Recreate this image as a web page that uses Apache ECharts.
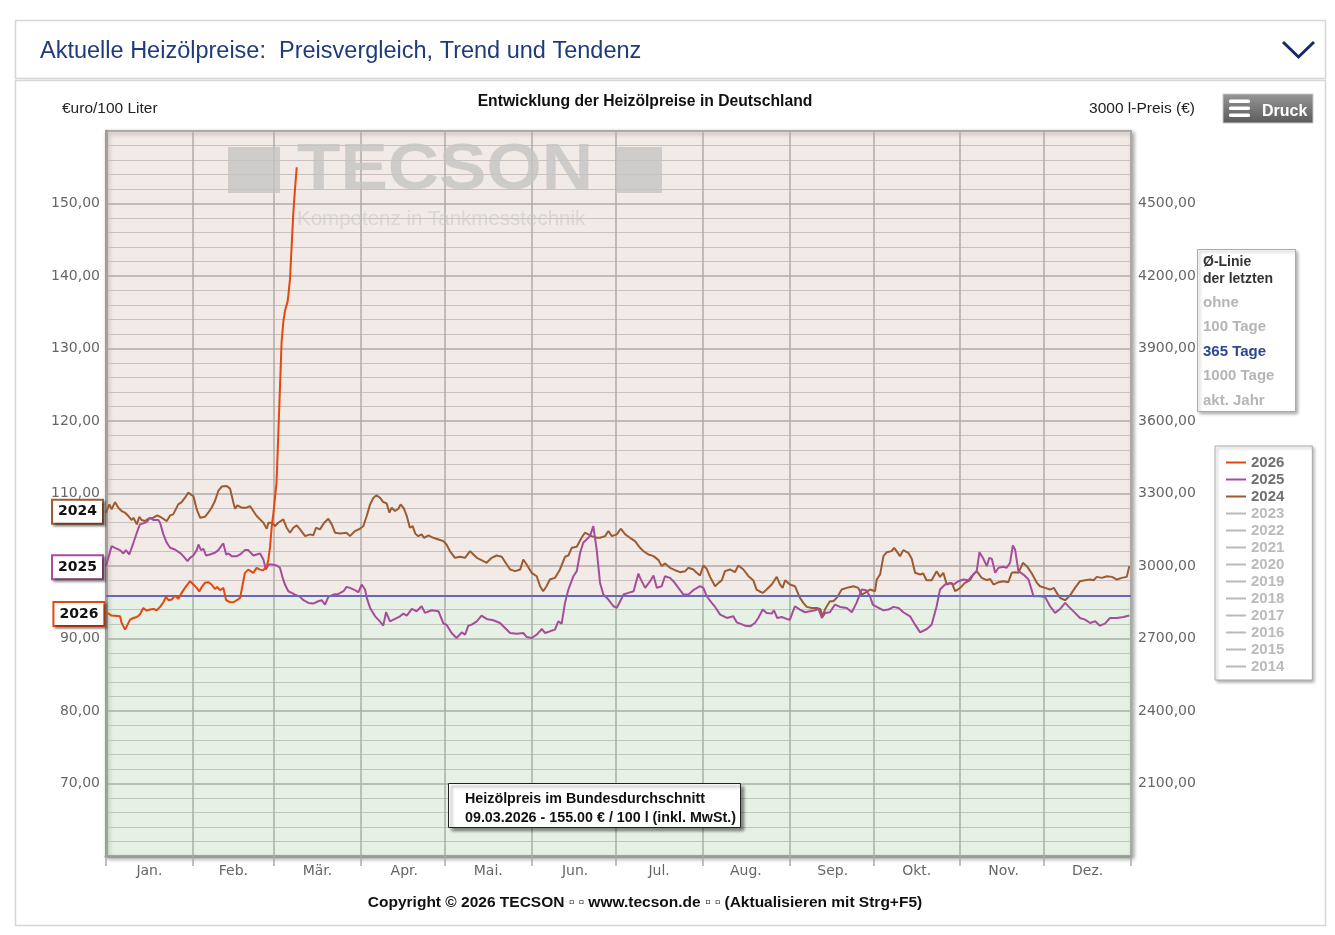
<!DOCTYPE html>
<html>
<head>
<meta charset="utf-8">
<script src="https://cdn.jsdelivr.net/npm/echarts@6/dist/echarts.min.js"></script>
<style>
html,body{margin:0;padding:0;background:#fff;}
#chart{width:1335px;height:935px;}
</style>
</head>
<body>
<div id="chart"></div>
<script>
// ---- data ----
const months = ['Jan.','Feb.','Mär.','Apr.','Mai.','Jun.','Jul.','Aug.','Sep.','Okt.','Nov.','Dez.'];
const monthDays = [31,29,31,30,31,30,31,31,30,31,30,31];
const legendYears = ['2026','2025','2024','2023','2022','2021','2020','2019','2018','2017','2016','2015','2014'];
const activeYears = ['2026','2025','2024'];
const avg365 = 95.9;

// [day of year, €/100 l]
const s2026 = [[0.5,93.53],[2,93.16],[5,93.06],[5.6,92.14],[6.8,91.22],[7.4,91.45],[8.6,92.6],[9.8,92.83],[11,92.97],[12.1,93.3],[13.3,94.2],[14.5,93.85],[15.7,93.99],[16.9,94.08],[18.1,93.9],[19.3,94.36],[20.5,95.0],[21.4,95.74],[22.3,95.28],[23.5,95.37],[24.6,95.92],[25.8,95.46],[27,96.29],[28.2,96.98],[30,97.9],[31.2,97.44],[32.4,96.98],[33.3,96.5],[34.2,97.1],[35.4,97.7],[36.5,97.77],[37.7,97.44],[38.9,96.84],[39.7,97.1],[40.7,96.66],[41.9,96.98],[42.9,95.28],[44.3,95.0],[45.5,95.0],[46.7,95.28],[47.9,95.6],[48.8,97.44],[49.6,99.05],[50.8,99.5],[52.6,99.05],[53.8,99.74],[55,99.5],[56.2,99.42],[57.4,99.98],[58,100.9],[58.6,102.74],[59.2,105.5],[59.8,107.35],[60.4,109.65],[60.9,111.5],[61.5,117.95],[62.1,124.4],[62.7,130.86],[63.3,133.6],[63.9,135.2],[64.8,136.4],[65.1,137.3],[65.7,139.6],[66.3,144.2],[66.9,148.8],[67.5,152.05],[68.1,155.0]];

const s2025 = [[0,99.98],[2,102.74],[3.2,102.51],[5,102.19],[6.2,101.73],[7.1,102.19],[8.3,101.59],[9.8,103.2],[11,104.59],[12.1,105.74],[13.3,105.88],[14.5,106.06],[15.7,106.66],[16.9,106.34],[18.7,106.34],[19.3,105.97],[20.5,104.36],[21.7,103.2],[22.9,102.51],[24.6,102.28],[26.4,101.82],[27.6,101.36],[29.1,100.67],[30,101.13],[31.2,101.45],[32.4,102.19],[33,102.97],[33.9,102.19],[34.8,102.37],[35.7,101.45],[37.1,101.59],[38.9,101.82],[40.1,102.19],[41.3,102.83],[41.9,103.11],[42.9,101.59],[43.7,101.73],[44.9,101.36],[46.7,101.36],[47.9,101.59],[49.6,102.19],[50.8,102.19],[52.6,101.45],[53.8,101.59],[55,101.73],[56.2,100.9],[57.1,99.52],[58,100.21],[59.2,100.21],[61,100.07],[62.1,99.75],[63.1,98.36],[63.9,97.44],[65.1,96.52],[66.3,96.29],[67.5,96.06],[69.3,95.74],[70.5,95.28],[72.3,94.91],[74,94.82],[75.8,95.14],[77,95.28],[78.2,94.68],[79.4,95.74],[81.2,96.06],[83,96.15],[84.8,96.52],[85.9,97.12],
[87.1,96.98],[88.9,96.66],[90.1,96.38],[91.3,97.44],[92.5,96.75],[93.1,95.6],[94.3,94.22],[96.1,93.06],[97.8,92.37],[99,91.77],[100,93.62],[101.4,92.37],[103.2,92.7],[105,93.06],[106.2,93.43],[107.4,93.16],[109.2,94.08],[110.9,93.76],[112.7,94.45],[113.9,93.53],[116.3,93.89],[118.7,93.76],[120.5,92.05],[121.6,91.91],[123.4,90.76],[125.2,90.07],[127,90.85],[128.2,90.53],[129.4,91.77],[130.6,91.91],[132.4,92.37],[134.1,93.16],[135.9,92.7],[138.3,92.51],[140.7,92.14],[142.5,91.45],[144.3,90.76],[146.7,90.67],[149,90.76],[150.2,90.21],[152,90.07],[153.8,90.53],[155.6,91.31],[156.8,90.76],[158.5,90.99],[160.3,91.22],[161.5,92.37],[162.7,92.05],[163.9,94.91],[165.1,96.75],[166.9,98.59],[168.1,99.29],[169.3,101.82],[170.4,103.2],[171.6,103.66],[172.8,104.12],[174,105.5],[174.6,105.6],[175.2,102.28],[176.4,97.67],[177.6,96.06],[179.4,95.37],[181.2,94.45],[182.4,94.22],[183.6,95.14],[184.8,96.06],[186.5,96.29],[188.4,96.52],[190.1,98.96],[190.7,98.36],[192.5,96.98],[194.3,97.9],[195.5,98.69],[196.7,96.98],[198.4,97.21],[199.6,98.59],[201.4,98.36],[202.6,97.9],[204.4,96.98],[206.2,96.06],[208,96.06],[209.7,96.66],[212.1,97.21],[213.3,96.98],[214.5,95.83],[216.3,94.91],[217.5,94.35],[219.3,93.3],[221.7,92.83],[224,93.06],[225.2,92.23],
[226.4,92.05],[228.2,91.77],[230,91.68],[231.7,92.14],[232.9,92.83],[234.5,93.99],[235.9,93.53],[237.7,93.43],[238.5,93.89],[239.7,92.83],[241.3,92.97],[243,92.7],[244.2,92.6],[246,94.45],[247.8,93.99],[249.6,93.62],[251.4,93.76],[253.2,93.89],[254.4,94.08],[255.6,92.83],[256.8,93.53],[258.5,93.62],[260.3,94.68],[262.1,94.36],[264.5,94.22],[266.3,93.62],[268,94.91],[269.8,96.75],[271.4,96.66],[272.8,95.83],[273.8,94.68],[275.2,94.36],[277.6,93.89],[279.4,93.99],[281.2,94.36],[283,94.22],[284.7,93.62],[287.1,93.06],[288.9,91.91],[290.7,90.85],[293.1,91.31],[294.8,91.91],[296.6,94.45],[297.8,96.75],[299.6,97.44],[301.4,97.67],[302.6,97.44],[304.4,97.9],[306.2,98.13],[308,98.04],[309.1,98.59],[310.9,99.29],[311.9,101.91],[313.3,100.99],[314.5,99.98],[315.4,101.13],[316.3,100.99],[317.5,99.06],[318.7,99.75],[320.4,99.89],[321.6,99.75],[322.8,100.44],[323.8,102.83],[324.6,102.28],[325.8,99.29],[327.6,98.82],[329.4,98.13],[331.2,95.83],[333.5,95.83],[335.3,95.74],[337.1,94.45],[338.9,93.53],[340.7,94.08],[342.5,94.91],[344.2,94.22],[346,93.53],[347.8,92.83],[349.6,92.6],[351.4,92.14],[353.2,92.37],[354.9,91.77],[356.7,92.05],[358.5,92.83],[360.9,92.83],[363.3,92.97],[365.4,93.16]];

const s2024 = [[0,107.35],[1.2,108.5],[2,107.81],[3.2,108.82],[4.4,108.04],[5.6,107.58],[6.8,107.35],[8,106.89],[9.2,106.34],[9.8,106.66],[11,105.74],[11.9,106.8],[12.7,106.34],[13.9,106.2],[15.1,106.52],[16.9,106.66],[18.3,106.98],[19.9,106.66],[21.7,106.2],[22.9,106.98],[24,107.12],[25.8,108.5],[27,108.82],[28.2,109.42],[29.4,110.12],[30.2,109.89],[31.2,109.65],[32.4,107.81],[33.6,106.66],[35.4,106.8],[36.5,107.35],[37.7,108.04],[38.9,108.96],[40.1,110.35],[41.3,110.95],[43.1,111.04],[44.3,110.67],[45.5,108.73],[46.1,107.9],[46.9,108.36],[48.4,108.04],[50.2,108.04],[51.4,108.27],[52.6,107.58],[53.8,106.89],[55,106.43],[56.2,105.97],[57.4,105.14],[58,105.97],[59.2,105.97],[60.4,105.51],[61.5,105.97],[63.3,106.43],[64.5,105.28],[65.7,104.59],[66.9,105.28],[68.1,105.6],[69.3,105.05],[71.1,104.12],[72.9,104.36],[74,104.22],[75,105.28],[76.4,105.05],[77.9,105.97],[79.4,106.52],[80.6,105.74],[81.8,104.59],[83.6,104.49],[85.9,104.59],
[87.1,104.12],[88.9,104.82],[90.7,105.14],[91.9,105.51],[93.1,106.89],[94.3,108.5],[95.5,109.42],[96.6,109.75],[97.8,109.42],[99,108.82],[100.2,108.64],[101.2,107.35],[102,108.04],[103.2,107.58],[104.4,107.9],[105.2,108.5],[106.4,107.9],[107.4,106.89],[108.5,105.28],[109.5,105.51],[110.4,104.49],[111.5,104.12],[112.7,104.36],[113.6,103.89],[115.1,104.22],[116.9,103.89],[118.7,103.66],[120.5,103.43],[121.6,102.97],[122.8,102.05],[124.6,101.13],[126.4,101.27],[128.2,101.13],[130,102.05],[131.2,101.59],[132.4,101.13],[134.1,100.81],[135.9,100.44],[137.7,101.13],[139.5,101.45],[141.3,101.27],[143.1,100.21],[144.3,99.52],[146.1,99.29],[147.9,99.52],[149,100.9],[150.2,100.21],[152,99.06],[153.8,98.59],[155,97.21],[156.1,96.52],[157.3,97.21],[158.5,98.13],[160.3,98.36],[162.1,99.52],[163.9,101.27],[165.1,101.45],[166.3,102.51],[168.1,102.65],[169.8,103.89],[171,104.59],[172.2,104.36],[173.4,104.12],[175.2,103.89],[176.4,103.89],[178.2,104.12],[179.4,104.82],[180.6,104.12],[182.4,104.36],[183.8,105.14],[185.4,104.36],[187.1,103.89],[188.9,103.43],[190.7,102.51],[191.9,102.05],[193.7,101.59],[195.5,101.36],[197.3,100.81],[198.4,99.98],[199.6,100.35],[201.4,99.75],[203.2,99.42],[205,99.15],[206.8,99.29],[208,99.75],[209.7,99.52],[210.9,99.06],[212.1,98.69],[213.3,100.07],[214.5,99.61],[215.7,98.5],[217.5,97.21],[218.7,97.67],[219.9,98.04],[221,99.29],[222.8,99.52],[224.6,99.15],[225.8,100.07],
[227.6,99.52],[229.4,98.59],[231.1,98.04],[232.3,96.75],[233.3,96.52],[234.5,96.29],[235.9,96.75],[237.7,97.44],[239.5,98.5],[240.7,97.44],[241.6,96.98],[242.5,98.04],[244.2,97.44],[246,97.21],[247.8,95.6],[249,94.91],[250.2,94.36],[252,94.22],[253.8,94.22],[255,94.08],[255.9,93.06],[256.8,94.08],[258.5,95.14],[259.7,95.14],[260.9,95.6],[262.7,96.75],[264.5,96.98],[266.9,97.21],[268.6,96.98],[269.8,96.06],[271,96.29],[272.8,96.75],[274.6,96.52],[275.2,98.13],[276.4,98.82],[277.6,101.36],[278.8,101.91],[280.5,102.05],[281.4,102.51],[282.3,102.05],[283.5,101.36],[284.7,102.19],[286.5,101.82],[287.7,100.99],[288.9,99.06],[290.7,98.82],[291.8,98.96],[293,98.04],[294.8,98.04],[296.6,99.29],[297.8,98.5],[299,99.06],[300.2,97.44],[302,97.67],[303.2,96.52],[305,96.98],[306.7,97.67],[308.5,98.04],[309.7,98.82],[310.9,99.29],[312.7,98.36],[314.5,98.04],[315.7,98.22],[316.9,97.44],[318.7,97.77],[320.4,97.9],[322.2,97.77],[323.4,99.06],[324.6,99.15],[325.8,99.06],[327.4,100.44],[328.8,99.98],[330.6,98.96],[332.4,97.67],[333.5,97.21],[335.3,96.98],[337.1,96.75],[338.5,96.98],[339.5,96.29],[340.7,95.6],[342.5,95.28],[344.2,95.92],[346,96.98],[347.8,97.9],[349.6,98.04],[351.4,98.13],[352.6,98.04],[353.8,98.5],[355.6,98.36],[357.4,98.59],[359.2,98.5],[361,98.13],[362.7,98.36],[364.5,98.5],[365.4,99.98]];

const seriesData = {'2026': s2026, '2025': s2025, '2024': s2024};
const yearColors = {'2026': '#e4470f', '2025': '#a64c9c', '2024': '#9c5b31'};

// ---- derived axis helpers ----
const monthStarts = [];
let acc = 0;
monthDays.forEach(d => { monthStarts.push(acc); acc += d; });
const totalDays = acc;
const dayCats = Array.from({length: totalDays}, (_, i) => String(i));
const midLabel = {};
monthStarts.forEach((s, m) => { midLabel[s + Math.floor(monthDays[m] / 2)] = months[m]; });
const startSet = new Set(monthStarts);

const fmt2 = v => v.toFixed(2).replace('.', ',');
const SANS = '"Liberation Sans", Arial, sans-serif';
const DJ = '"DejaVu Sans", Verdana, sans-serif';

const chart = echarts.init(document.getElementById('chart'));

const yearSeries = legendYears.map(y => {
  const data = seriesData[y] || [];
  const c = yearColors[y] || '#bbb';
  const s = {
    name: y, type: 'line', xAxisIndex: 0, yAxisIndex: 0,
    data: data, symbol: 'none', showSymbol: false, silent: true,
    lineStyle: {color: c, width: 2}, itemStyle: {color: c},
    z: y === '2026' ? 5 : (y === '2025' ? 4 : 3)
  };
  if (data.length) {
    s.markPoint = {
      silent: true, animation: false,
      data: [{
        coord: data[0], symbol: 'circle', symbolSize: 2,
        itemStyle: {color: 'rgba(0,0,0,0)'},
        label: {
          show: true, position: 'left', distance: 3, formatter: y,
          offset: y === '2024' ? [0, -1] : [0, 1],
          fontFamily: DJ, fontWeight: 'bold', fontSize: 14, color: '#111',
          backgroundColor: '#fff', borderColor: c, borderWidth: 2,
          padding: [4, 5, 4, 5],
          shadowColor: 'rgba(0,0,0,0.35)', shadowBlur: 2, shadowOffsetX: 2, shadowOffsetY: 2
        }
      }]
    };
  }
  return s;
});

const bgSeries = {
  name: 'avg', type: 'line', xAxisIndex: 0, yAxisIndex: 0, data: [], z: 1, silent: true,
  markArea: {
    silent: true,
    data: [
      [{yAxis: avg365, itemStyle: {color: 'rgba(203,171,155,0.25)'}}, {yAxis: 160}],
      [{yAxis: 60, itemStyle: {color: 'rgba(155,195,147,0.25)'}}, {yAxis: avg365}]
    ]
  },
  markLine: {
    silent: true, symbol: 'none', animation: false,
    label: {show: false},
    lineStyle: {color: '#6868b6', width: 2, type: 'solid'},
    data: [{yAxis: avg365}]
  }
};

const selected = {};
legendYears.forEach(y => { selected[y] = activeYears.indexOf(y) >= 0; });

const boxShadow = {shadowColor: 'rgba(0,0,0,0.3)', shadowBlur: 3, shadowOffsetX: 2, shadowOffsetY: 2};
const WM = 'rgba(196,196,196,0.8)';

const option = {
  animation: false,
  grid: {
    left: 106, top: 131, width: 1025, height: 725,
    show: true, backgroundColor: '#fff', borderColor: '#a9a9a9', borderWidth: 2,
    shadowColor: 'rgba(0,0,0,0.35)', shadowBlur: 4, shadowOffsetX: 2, shadowOffsetY: 2,
    outerBoundsMode: 'none', containLabel: false
  },
  xAxis: [
    {type: 'value', min: 0, max: totalDays, show: false, gridIndex: 0},
    {
      type: 'category', data: dayCats, boundaryGap: true, position: 'bottom', gridIndex: 0,
      axisLine: {show: true, lineStyle: {color: '#9a9a9a', width: 3}},
      axisTick: {show: true, interval: (i) => startSet.has(i), length: 10, lineStyle: {color: '#aaa', width: 1.5}},
      axisLabel: {
        interval: (i) => midLabel[i] !== undefined,
        formatter: (v, i) => midLabel[i] || '',
        color: '#666', fontSize: 14, fontFamily: DJ, margin: 8
      },
      splitLine: {show: true, interval: (i) => startSet.has(i), lineStyle: {color: '#aaa', width: 1.5}}
    }
  ],
  yAxis: [
    {
      type: 'value', min: 60, max: 160, interval: 10, position: 'left',
      axisLine: {show: true, lineStyle: {color: '#9a9a9a', width: 3}},
      axisTick: {show: false},
      axisLabel: {formatter: v => (v === 60 || v === 160) ? '' : fmt2(v), color: '#666', fontSize: 14, fontFamily: DJ, margin: 6, padding: [4, 0, 0, 0]},
      splitLine: {show: true, lineStyle: {color: '#aaa', width: 1.5}},
      minorTick: {show: false, splitNumber: 5},
      minorSplitLine: {show: true, lineStyle: {color: '#c9c9c9', width: 1}}
    },
    {
      type: 'value', min: 1800, max: 4800, interval: 300, position: 'right',
      axisLine: {show: false}, axisTick: {show: false}, splitLine: {show: false},
      axisLabel: {formatter: v => (v === 1800 || v === 4800) ? '' : fmt2(v), color: '#666', fontSize: 14, fontFamily: DJ, margin: 7, padding: [4, 0, 0, 0]}
    }
  ],
  legend: {
    data: legendYears, selected: selected,
    orient: 'vertical', left: 1215, top: 446,
    padding: [9, 28, 6, 11], itemGap: 2, itemWidth: 20, itemHeight: 2, icon: 'rect',
    textStyle: {color: '#707070', fontWeight: 'bold', fontSize: 15, fontFamily: SANS, lineHeight: 15},
    inactiveColor: '#bbb', inactiveBorderColor: '#bbb',
    borderColor: '#aaa', borderWidth: 1, backgroundColor: '#fff',
    shadowColor: 'rgba(0,0,0,0.3)', shadowBlur: 3, shadowOffsetX: 2, shadowOffsetY: 2
  },
  series: [bgSeries].concat(yearSeries.slice().reverse()),
  graphic: {elements: [
    // page frames
    {type: 'rect', z: -10, silent: true, shape: {x: 15.5, y: 20.5, width: 1310, height: 58}, style: {fill: '#fff', stroke: '#d6d6d6', lineWidth: 1.5}},
    {type: 'rect', z: -10, silent: true, shape: {x: 15.5, y: 80.5, width: 1310, height: 845}, style: {fill: '#fff', stroke: '#d6d6d6', lineWidth: 1.5}},
    {type: 'text', x: 40, y: 52, silent: true, style: {text: 'Aktuelle Heizölpreise:  Preisvergleich, Trend und Tendenz', font: '23.5px ' + SANS, fill: '#1f3b7b', verticalAlign: 'middle'}},
    {type: 'polyline', silent: true, shape: {points: [[1283, 42], [1298.5, 57], [1314, 42]]}, style: {stroke: '#17296b', lineWidth: 3, fill: null}},
    // chart titles
    {type: 'text', x: 62, y: 109, silent: true, style: {text: '€uro/100 Liter', font: '15.5px ' + SANS, fill: '#222', verticalAlign: 'middle'}},
    {type: 'text', x: 645, y: 102, silent: true, style: {text: 'Entwicklung der Heizölpreise in Deutschland', font: 'bold 15.7px ' + SANS, fill: '#111', align: 'center', verticalAlign: 'middle'}},
    {type: 'text', x: 1195, y: 109, silent: true, style: {text: '3000 l-Preis (€)', font: '15.5px ' + SANS, fill: '#222', align: 'right', verticalAlign: 'middle'}},
    // Druck button
    {type: 'rect', silent: true, shape: {x: 1223, y: 94, width: 90, height: 29},
      style: {fill: new echarts.graphic.LinearGradient(0, 0, 0, 1, [{offset: 0, color: '#979797'}, {offset: 1, color: '#5a5a5a'}]), stroke: '#c8c8c8', lineWidth: 1}},
    {type: 'rect', silent: true, shape: {x: 1229, y: 99.5, width: 21, height: 3.5, r: 1.5}, style: {fill: '#fff'}},
    {type: 'rect', silent: true, shape: {x: 1229, y: 106.5, width: 21, height: 3.5, r: 1.5}, style: {fill: '#fff'}},
    {type: 'rect', silent: true, shape: {x: 1229, y: 113.5, width: 21, height: 3.5, r: 1.5}, style: {fill: '#fff'}},
    {type: 'text', x: 1262, y: 112, silent: true, style: {text: 'Druck', font: 'bold 16px ' + SANS, fill: '#fff', verticalAlign: 'middle'}},
    // watermark
    {type: 'rect', z: 1.5, silent: true, shape: {x: 228, y: 147, width: 52, height: 46}, style: {fill: WM}},
    {type: 'rect', z: 1.5, silent: true, shape: {x: 616, y: 147, width: 46, height: 46}, style: {fill: WM}},
    {type: 'text', z: 1.5, silent: true, x: 297, y: 171, scaleX: 1.11, style: {text: 'TECSON', font: 'bold 64px ' + SANS, fill: WM, verticalAlign: 'middle'}},
    {type: 'text', z: 1.5, silent: true, x: 297, y: 219, style: {text: 'Kompetenz in Tankmesstechnik', font: '20.5px ' + SANS, fill: 'rgba(200,200,200,0.6)', verticalAlign: 'middle'}},
    // info box
    {type: 'rect', z: 10, silent: true, shape: {x: 448.5, y: 783.5, width: 292, height: 44}, style: Object.assign({fill: '#fff', stroke: '#222', lineWidth: 1}, {shadowColor: 'rgba(0,0,0,0.45)', shadowBlur: 3, shadowOffsetX: 3, shadowOffsetY: 3})},
    {type: 'text', z: 11, silent: true, x: 465, y: 799, style: {text: 'Heizölpreis im Bundesdurchschnitt', font: 'bold 14.3px ' + SANS, fill: '#111', verticalAlign: 'middle'}},
    {type: 'text', z: 11, silent: true, x: 465, y: 818, style: {text: '09.03.2026 - 155.00 € / 100 l (inkl. MwSt.)', font: 'bold 14.3px ' + SANS, fill: '#111', verticalAlign: 'middle'}},
    // average selector box
    {type: 'rect', silent: true, shape: {x: 1197.5, y: 249.5, width: 98, height: 162}, style: Object.assign({fill: '#fff', stroke: '#aaa', lineWidth: 1}, boxShadow)},
    {type: 'text', silent: true, x: 1203, y: 262, style: {text: 'Ø-Linie', font: 'bold 14px ' + SANS, fill: '#333', verticalAlign: 'middle'}},
    {type: 'text', silent: true, x: 1203, y: 279, style: {text: 'der letzten', font: 'bold 14px ' + SANS, fill: '#333', verticalAlign: 'middle'}},
    {type: 'text', silent: true, x: 1203, y: 303, style: {text: 'ohne', font: 'bold 15px ' + SANS, fill: '#b5b5b5', verticalAlign: 'middle'}},
    {type: 'text', silent: true, x: 1203, y: 327, style: {text: '100 Tage', font: 'bold 15px ' + SANS, fill: '#b5b5b5', verticalAlign: 'middle'}},
    {type: 'text', silent: true, x: 1203, y: 352, style: {text: '365 Tage', font: 'bold 15px ' + SANS, fill: '#2b4792', verticalAlign: 'middle'}},
    {type: 'text', silent: true, x: 1203, y: 376, style: {text: '1000 Tage', font: 'bold 15px ' + SANS, fill: '#b5b5b5', verticalAlign: 'middle'}},
    {type: 'text', silent: true, x: 1203, y: 401, style: {text: 'akt. Jahr', font: 'bold 15px ' + SANS, fill: '#b5b5b5', verticalAlign: 'middle'}},
    // copyright
    {type: 'text', silent: true, x: 645, y: 903, style: {text: 'Copyright © 2026 TECSON ▫ ▫ www.tecson.de ▫ ▫ (Aktualisieren mit Strg+F5)', font: 'bold 15.5px ' + SANS, fill: '#111', align: 'center', verticalAlign: 'middle'}}
  ]}
};

chart.setOption(option);
</script>
</body>
</html>
